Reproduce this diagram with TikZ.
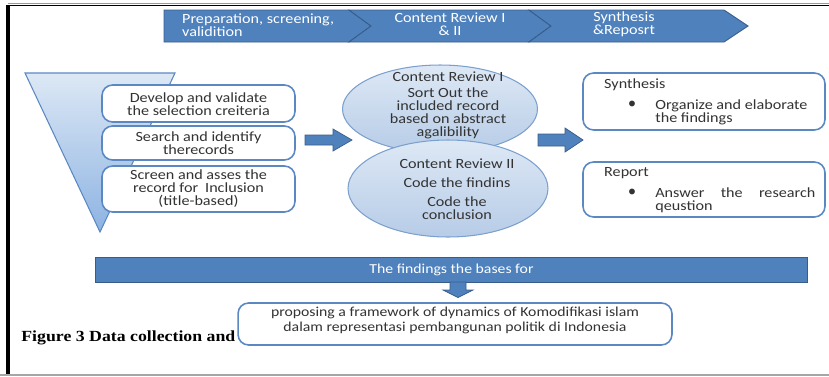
\documentclass[tikz,border=0pt]{standalone}
\usepackage{fontspec}
\setmainfont{Carlito}[FakeStretch=1.15]
\newfontfamily\capfont{Liberation Serif}[FakeStretch=1.15]
\usetikzlibrary{calc, shapes.geometric}

\definecolor{officeblue}{HTML}{4F81BD}
\definecolor{officeline}{HTML}{385D8A}
\definecolor{boxline}{HTML}{5B88C2}
\definecolor{paleblue}{HTML}{DDE8F5}
\definecolor{midblue}{HTML}{B7CCE7}
\definecolor{funnelbot}{HTML}{8DB3E2}

\tikzset{
	chevron/.style={fill=officeblue, draw=officeline, line width=0.5pt},
	chevtext/.style={text=white, font=\fontsize{8}{7.6}\selectfont},
	stepbox/.style={draw=boxline, line width=0.9pt, rounded corners=6pt, fill=white, inner sep=0pt},
	boxtext/.style={text=black!80, font=\fontsize{8}{7.4}\selectfont, align=center},
	oval/.style={ellipse, draw=boxline!80, line width=0.6pt, top color=paleblue, bottom color=midblue, inner sep=0pt},
	blkarrow/.style={fill=officeblue, draw=officeline, line width=0.4pt},
	banner/.style={fill=officeblue, draw=officeline, line width=0.5pt, inner sep=0pt}
}

\begin{document}
\begin{tikzpicture}[x=0.02cm, y=-0.02cm]
		%definition of the page area
		\useasboundingbox (0,0) rectangle (829,376);
		
		%frame of the page
		\draw [black!40, line width=0.5pt] (8,3) -- (829,3);
		\draw [line width=1.1pt] (8,5.5) -- (829,5.5);
		\draw [line width=2.2pt] (8,5) -- (8,376);
		\draw [black!35, line width=1pt] (0,375) -- (829,375);
		
		%chevrons across the top
		\filldraw [chevron] (164,10) -- (349,10) -- (371,26) -- (349,42) -- (164,42) -- cycle;
		\filldraw [chevron] (349,10) -- (529,10) -- (551,26) -- (529,42) -- (349,42) -- (371,26) -- cycle;
		\filldraw [chevron] (529,10) -- (724,10) -- (748,26) -- (724,42) -- (529,42) -- (551,26) -- cycle;
		\node [chevtext, anchor=west, align=left] (prep) at (176,25) {Preparation, screening,\\validition};
		\node [chevtext, align=center] (crev) at (450,24) {Content Review I\\\& II};
		\node [chevtext, align=center] (synrep) at (624,24) {Synthesis\\\&Reposrt};
		
		%funnel with the first three steps
		\draw [draw=boxline, line width=0.6pt, top color=paleblue, bottom color=funnelbot] (25,73) -- (175,73) -- (100,232) -- cycle;
		\node [stepbox, minimum width=3.86cm, minimum height=0.74cm] (develop) at (198.5,103.5) {};
		\node [stepbox, minimum width=3.86cm, minimum height=0.68cm] (search) at (198.5,143) {};
		\node [stepbox, minimum width=3.86cm, minimum height=0.92cm] (screen) at (198.5,189) {};
		\node [boxtext] (developtxt) at (198.5,104) {Develop and validate\\the selection creiteria};
		\node [boxtext] (searchtxt) at (search) {Search and identify\\therecords};
		\node [boxtext] (screentxt) at (screen) {Screen and asses the\\record for\enspace Inclusion\\(title-based)};
		
		%arrow towards the reviews
		\coordinate (arrA) at (305,140);
		\filldraw [blkarrow] (arrA) ++(0,-5) -- ++(28,0) -- ++(0,-6) -- ++(19,11) -- ++(-19,11) -- ++(0,-6) -- ++(-28,0) -- cycle;
		
		%content reviews
		\node [oval, minimum width=3.9cm, minimum height=1.76cm] (review1) at (440,109) {};
		\node [oval, minimum width=4.0cm, minimum height=1.94cm] (review2) at (448,188.5) {};
		\node [boxtext] (review1txt) at (448,105.5) {Content Review I\\[2pt]Sort Out the\\included record\\based on abstract\\agalibility};
		\node [boxtext] (review2txt) at (457,189) {Content Review II\\[3.5pt]Code the findins\\[3.5pt]Code the\\conclusion};
		
		%arrow towards synthesis and report
		\coordinate (arrB) at (538,140);
		\filldraw [blkarrow] (arrB) ++(0,-6) -- ++(27,0) -- ++(0,-6) -- ++(18,12) -- ++(-18,12) -- ++(0,-6) -- ++(-27,0) -- cycle;
		
		%synthesis and report
		\node [stepbox, minimum width=4.84cm, minimum height=1.14cm] (synth) at (704,101.5) {};
		\node [stepbox, minimum width=4.84cm, minimum height=1.1cm] (report) at (704,189.5) {};
		\node [boxtext, anchor=west] (synthhead) at (598,85) {Synthesis};
		\node [boxtext] (synthdot) at (632,104.5) {$\bullet$};
		\node [boxtext, anchor=north west, align=left, inner sep=0pt] (synthtxt) at (655,99) {Organize and elaborate\\the findings};
		\node [boxtext, anchor=west] (reporthead) at (598,173) {Report};
		\node [boxtext] (reportdot) at (632,192.5) {$\bullet$};
		\node [boxtext, anchor=north west, align=left, inner sep=0pt] (reporttxt) at (655,187) {\makebox[3.2cm][s]{Answer the research}\\qeustion};
		
		%findings banner
		\node [banner, minimum width=14.26cm, minimum height=0.5cm, text=white, font=\fontsize{7.8}{9}\selectfont] (bases) at (451.5,269.5) {The findings the bases for};
		\coordinate (arrC) at (458,282);
		\filldraw [blkarrow] (arrC) ++(-8,0) -- ++(0,8) -- ++(-7,0) -- ++(15,7.5) -- ++(15,-7.5) -- ++(-7,0) -- ++(0,-8) -- cycle;
		
		%framework box
		\node [stepbox, minimum width=8.68cm, minimum height=0.84cm] (framework) at (455,324) {};
		\node [boxtext, font=\fontsize{7.8}{8.5}\selectfont] (frameworktxt) at (455,320.5) {proposing a framework of dynamics of Komodifikasi islam\\dalam representasi pembangunan politik di Indonesia};
		
		%caption
		\node [anchor=base west, inner sep=0pt, font=\capfont\bfseries\fontsize{8.8}{10}\selectfont] (caption) at (21,341) {Figure 3 Data collection and};
	\end{tikzpicture}
\end{document}
